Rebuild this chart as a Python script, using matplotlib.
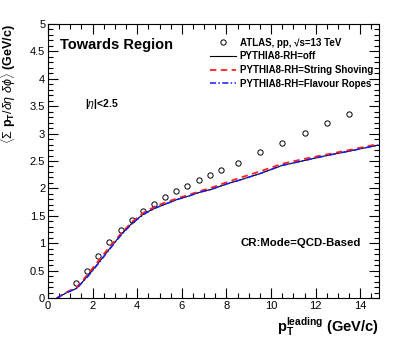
import numpy as np
import matplotlib
matplotlib.use('Agg')
import matplotlib.pyplot as plt
from matplotlib.ticker import MultipleLocator

plt.rcParams['font.family'] = ['Liberation Sans', 'DejaVu Sans']
plt.rcParams['mathtext.fontset'] = 'custom'
plt.rcParams['mathtext.rm'] = 'Liberation Sans'
plt.rcParams['mathtext.bf'] = 'Liberation Sans:bold'
plt.rcParams['mathtext.it'] = 'Liberation Sans:italic'

# ATLAS data, towards region
atlas_x = [1.25, 1.75, 2.25, 2.75, 3.25, 3.75, 4.25, 4.75, 5.25, 5.75, 6.25, 6.75,
           7.25, 7.75, 8.5, 9.5, 10.5, 11.5, 12.5, 13.5]
atlas_y = [0.27, 0.50, 0.77, 1.02, 1.25, 1.43, 1.59, 1.72, 1.84, 1.95, 2.04, 2.15,
           2.24, 2.34, 2.46, 2.66, 2.83, 3.02, 3.20, 3.36]

# PYTHIA8 curves
pt = [0.4, 0.8, 1.3, 1.8, 2.3, 2.8, 3.3, 3.8, 4.3, 4.8, 5.3, 5.8, 6.3, 6.8, 7.3,
      8.0, 8.5, 9.5, 10.5, 11.5, 12.5, 13.5, 14.8]
rh_off = [0.0, 0.09, 0.18, 0.41, 0.66, 0.92, 1.17, 1.38, 1.54, 1.64, 1.72, 1.80, 1.86,
          1.93, 1.98, 2.08, 2.14, 2.27, 2.42, 2.51, 2.60, 2.68, 2.79]
rh_shove = [0.0, 0.10, 0.20, 0.44, 0.70, 0.95, 1.19, 1.40, 1.56, 1.67, 1.75, 1.82, 1.88,
            1.95, 2.01, 2.11, 2.18, 2.31, 2.45, 2.54, 2.62, 2.70, 2.81]
rh_ropes = [0.0, 0.09, 0.18, 0.40, 0.65, 0.91, 1.16, 1.37, 1.53, 1.64, 1.72, 1.80, 1.86,
            1.93, 1.98, 2.08, 2.14, 2.27, 2.42, 2.51, 2.60, 2.68, 2.79]

fig = plt.figure(figsize=(4.15, 3.44), dpi=100)
ax = fig.add_axes([0.1157, 0.1337, 0.7976, 0.7965])

ax.plot(atlas_x, atlas_y, 'o', mfc='none', mec='black', ms=3.8, mew=0.7,
        label='ATLAS, pp, \u221as=13 TeV')
ax.plot(pt, rh_off, '-', color='black', lw=0.8, label='PYTHIA8-RH=off')
ax.plot(pt, rh_shove, '--', color='#ff2020', lw=1.3, dashes=(3.5, 2.5),
        label='PYTHIA8-RH=String Shoving')
ax.plot(pt, rh_ropes, '-.', color='#1a1aff', lw=1.1, dashes=(4, 1.5, 1, 1.5),
        label='PYTHIA8-RH=Flavour Ropes')

ax.set_xlim(0, 14.84)
ax.set_ylim(0, 5)
ax.xaxis.set_major_locator(MultipleLocator(2))
ax.xaxis.set_minor_locator(MultipleLocator(0.5))
ax.yaxis.set_minor_locator(MultipleLocator(0.1))
ax.set_yticks([0, 0.5, 1, 1.5, 2, 2.5, 3, 3.5, 4, 4.5, 5])
ax.set_yticklabels(['0', '0.5', '1', '1.5', '2', '2.5', '3', '3.5', '4', '4.5', '5'])
ax.tick_params(which='both', direction='in', top=True, right=True, labelsize=8, pad=2)
ax.tick_params(which='major', length=7, width=0.8)
ax.tick_params(which='minor', length=3.5, width=0.8)
for s in ax.spines.values():
    s.set_linewidth(0.8)

ax.set_ylabel(r'$\langle\Sigma\ \mathbf{p}_\mathbf{T}/\delta\eta\ \delta\phi\rangle$ (GeV/c)',
              fontsize=9, fontweight='bold')
ax.yaxis.set_label_coords(-0.09, 1.0)
ax.yaxis.label.set_horizontalalignment('right')
ax.set_xlabel(r'$\mathbf{p}_\mathbf{T}^\mathbf{leading}$ (GeV/c)', fontsize=10.5,
              fontweight='bold')
ax.xaxis.set_label_coords(1.0, -0.065)
ax.xaxis.label.set_horizontalalignment('right')

ax.text(0.035, 0.925, 'Towards Region', transform=ax.transAxes, fontsize=10.5,
        fontweight='bold', va='center')
ax.text(0.112, 0.708, r'|$\eta$|<2.5', transform=ax.transAxes, fontsize=7.5,
        fontweight='bold', va='center')
ax.text(0.583, 0.2, 'CR:Mode=QCD-Based', transform=ax.transAxes, fontsize=8.2,
        fontweight='bold', va='center')

leg = ax.legend(loc='upper left', bbox_to_anchor=(0.47, 0.975), frameon=False,
                prop={'weight': 'bold', 'size': 7.0}, handlelength=2.6,
                labelspacing=0.38, handletextpad=0.4, borderpad=0.2)

fig.savefig('out.png', dpi=100, facecolor='white')
